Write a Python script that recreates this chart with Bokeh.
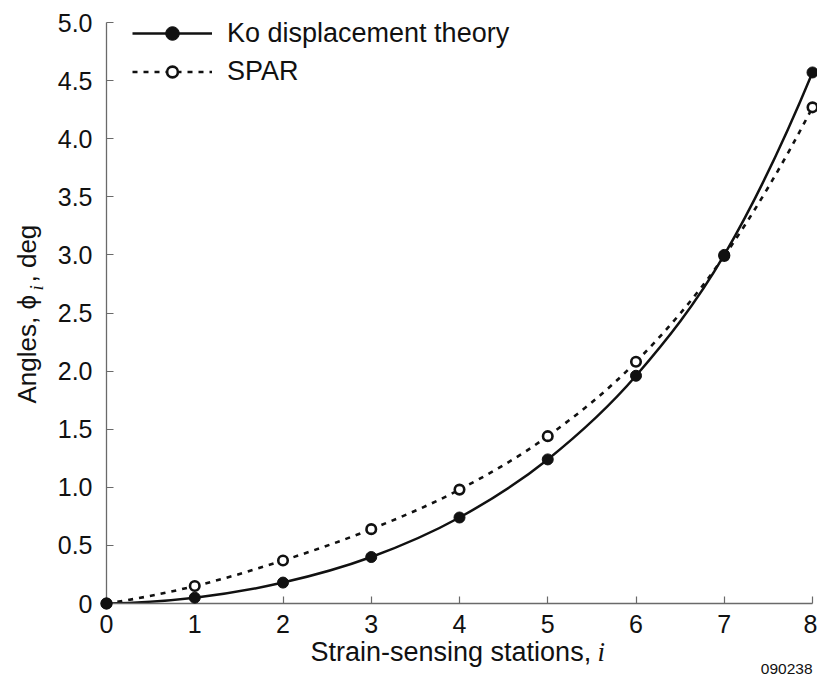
import numpy as np
from bokeh.plotting import figure
from bokeh.models import (Range1d, FixedTicker, Legend, LegendItem,
                          ColumnDataSource)
from bokeh.core.properties import value
from bokeh.embed import file_html
from bokeh.resources import INLINE

# ---------------- data ----------------
stations = [0, 1, 2, 3, 4, 5, 6, 7, 8]
ko_angles = [0.0, 0.05, 0.18, 0.40, 0.74, 1.24, 1.96, 3.00, 4.57]
spar_angles = [0.0, 0.15, 0.37, 0.64, 0.98, 1.44, 2.08, 2.99, 4.27]

x_ticks = [0, 1, 2, 3, 4, 5, 6, 7, 8]
x_tick_labels = ["0", "1", "2", "3", "4", "5", "6", "7", "8"]
y_ticks = [0, 0.5, 1.0, 1.5, 2.0, 2.5, 3.0, 3.5, 4.0, 4.5, 5.0]
y_tick_labels = ["0", "0.5", "1.0", "1.5", "2.0", "2.5", "3.0", "3.5",
                 "4.0", "4.5", "5.0"]

series_names = ["Ko displacement theory", "SPAR"]
x_title = "Strain-sensing stations,"
x_title_var = "i"
y_title_a = "Angles, \u03d5"
y_title_sub = "i"
y_title_b = ", deg"
fig_id = "090238"

FONT = "Liberation Sans"
SERIF = "Liberation Serif"
INK = "#111111"
AXIS = "#6a6a6a"


def smooth_segments(xs, ys):
    """Cubic Bezier segments through the data points (Hermite tangents)."""
    x = np.asarray(xs, dtype=float)
    y = np.asarray(ys, dtype=float)
    m = np.gradient(y, x, edge_order=2)
    h = np.diff(x)
    return dict(x0=x[:-1], y0=y[:-1], x1=x[1:], y1=y[1:],
                cx0=x[:-1] + h / 3, cy0=y[:-1] + m[:-1] * h / 3,
                cx1=x[1:] - h / 3, cy1=y[1:] - m[1:] * h / 3)


# axis frame: x 0..8 -> 106..812 px, y 0..5 -> 603..22 px
W, H = 817, 679
FL, FR, FT, FB = 106, 812, 22, 603
Y_UNIT = (FB - FT) / 5.0
TOP_PAD = 7                       # small headroom above the 5.0 tick
y_top = 5.0 + TOP_PAD / Y_UNIT
p = figure(width=W, height=H, output_backend="svg", toolbar_location=None,
           x_range=Range1d(0, 8), y_range=Range1d(0, y_top),
           min_border_left=FL, min_border_right=W - FR,
           min_border_top=FT - TOP_PAD, min_border_bottom=H - FB)
p.outline_line_color = None
p.grid.visible = False
p.background_fill_color = "white"
p.border_fill_color = "white"

# ---------------- series ----------------
spar_src = ColumnDataSource(smooth_segments(stations, spar_angles))
ko_src = ColumnDataSource(smooth_segments(stations, ko_angles))

r_sp_line = p.bezier(x0="x0", y0="y0", x1="x1", y1="y1", cx0="cx0", cy0="cy0",
                     cx1="cx1", cy1="cy1", source=spar_src, line_color=INK,
                     line_width=2.6, line_dash="5 6")
r_sp_pts = p.scatter(stations, spar_angles, marker="circle", size=9.5,
                     fill_color="white", line_color=INK, line_width=2.6,
                     level="overlay")
r_ko_line = p.bezier(x0="x0", y0="y0", x1="x1", y1="y1", cx0="cx0", cy0="cy0",
                     cx1="cx1", cy1="cy1", source=ko_src, line_color=INK,
                     line_width=2.5)
r_ko_pts = p.scatter(stations, ko_angles, marker="circle", size=11,
                     fill_color=INK, line_color=INK, line_width=1,
                     level="overlay")

# ---------------- axes ----------------
for ax, ticks, labels, standoff, bnds in (
        (p.xaxis[0], x_ticks, x_tick_labels, 11, (0, 8)),
        (p.yaxis[0], y_ticks, y_tick_labels, 14, (0, 5))):
    ax.ticker = FixedTicker(ticks=ticks)
    ax.major_label_overrides = {t: l for t, l in zip(ticks, labels)}
    ax.bounds = bnds
    ax.axis_line_color = AXIS
    ax.axis_line_width = 1.3
    ax.major_tick_line_color = AXIS
    ax.major_tick_line_width = 1.2
    ax.major_tick_in = 7
    ax.major_tick_out = 0
    ax.minor_tick_line_color = None
    ax.major_label_standoff = standoff
    ax.major_label_text_font = FONT
    ax.major_label_text_font_size = "25px"
    ax.major_label_text_color = INK
    ax.axis_label = None


# ---------------- titles: text glyphs placed through the plot's scales -----
def dx(px):
    return (px - FL) / ((FR - FL) / 8.0)


def dy(py):
    return (FB - py) / Y_UNIT


def add_text(px, py, text, font=FONT, size=26, style="normal",
             align="left", rotated=False):
    # (px, py): start of the text's baseline in pixels; the glyph is
    # anchored at the middle of its line box, ~0.34 em above the baseline.
    shift = 0.34 * size
    if rotated:
        ax_, ay_, ang = px - shift, py, np.pi / 2
    else:
        ax_, ay_, ang = px, py - shift, 0.0
    p.text(x=[dx(ax_)], y=[dy(ay_)], text=[text], angle=ang,
           text_font=value(font), text_font_size=value(f"{size}px"),
           text_font_style=value(style), text_color=INK,
           text_align=value(align), text_baseline=value("middle"),
           level="overlay")


add_text(310, 661, x_title, size=27)
add_text(597, 661, x_title_var, font=SERIF, size=27, style="italic")

add_text(35, 403, y_title_a, rotated=True)
add_text(42, 290, y_title_sub, font=SERIF, size=19, style="italic",
         rotated=True)
add_text(35, 282, y_title_b, rotated=True)

add_text(812, 674, fig_id, size=15.5, align="right")

# ---------------- legends ----------------
common = dict(glyph_width=80, padding=0, margin=0, spacing=0,
              label_standoff=15, border_line_color=None,
              background_fill_alpha=0, label_text_font=FONT,
              label_text_font_size="27px", label_text_color=INK)
leg1 = Legend(items=[LegendItem(label=series_names[0],
                                renderers=[r_ko_line, r_ko_pts])],
              location=(26, 553), glyph_height=34, **common)
leg2 = Legend(items=[LegendItem(label=series_names[1],
                                renderers=[r_sp_line, r_sp_pts])],
              location=(26, 516), glyph_height=27, **common)
p.add_layout(leg1)
p.add_layout(leg2)

open("out.html", "w").write(file_html(p, INLINE))
